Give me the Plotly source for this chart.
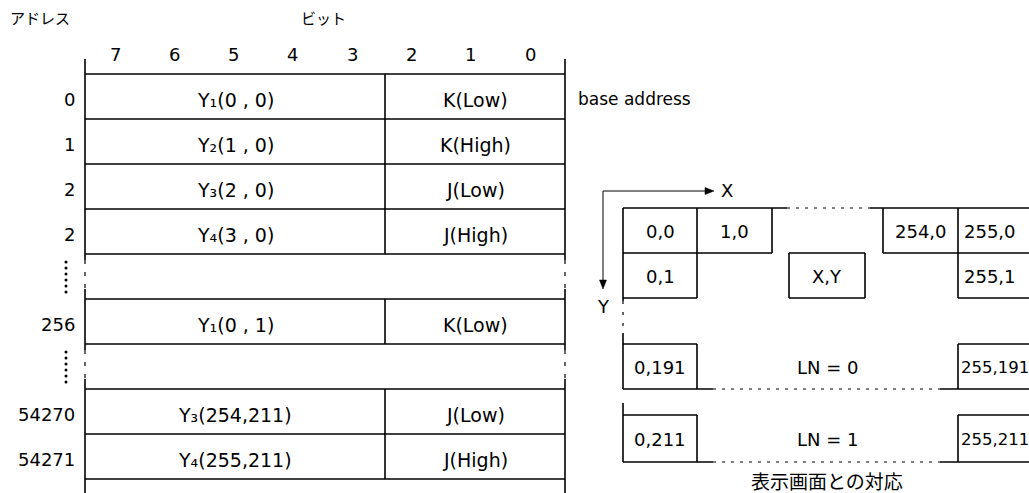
import plotly.graph_objects as go

W, H = 1029, 493

# ---------------- data ----------------
bit_labels = ["7", "6", "5", "4", "3", "2", "1", "0"]
addresses = ["0", "1", "2", "2", None, "256", None, "54270", "54271"]
pixel_fields = ["Y₁(0 , 0)", "Y₂(1 , 0)", "Y₃(2 , 0)", "Y₄(3 , 0)", None,
                "Y₁(0 , 1)", None, "Y₃(254,211)", "Y₄(255,211)"]
color_fields = ["K(Low)", "K(High)", "J(Low)", "J(High)", None, "K(Low)", None,
                "J(Low)", "J(High)"]
title_address = "アドレス"
title_bit = "ビット"
base_label = "base address"
caption = "表示画面との対応"
screen_row0 = ["0,0", "1,0", "254,0", "255,0"]
screen_row1 = ["0,1", "X,Y", "255,1"]
screen_lines = [("0,191", "LN = 0", "255,191"), ("0,211", "LN = 1", "255,211")]

# ---------------- layout constants ----------------
LAT = "DejaVu Sans"
JP = "Noto Sans CJK JP"
FS = 18
FS_CELL = 19
LW = 1.6
TX0, TXM, TX1 = 85, 385, 565
TY0, ROWH = 74, 45
BIT_X0, BIT_STEP = 115, 59.3

shapes = []
annotations = []


def line(x0, y0, x1, y1, dash=None, width=LW):
    ln = dict(color="black", width=width)
    if dash:
        ln["dash"] = dash
    shapes.append(dict(type="line", xref="x", yref="y", x0=x0, y0=y0, x1=x1, y1=y1,
                       line=ln, layer="above"))


def arrow_head(path):
    shapes.append(dict(type="path", xref="x", yref="y", path=path,
                       fillcolor="black", line=dict(color="black", width=0.5),
                       layer="above"))


def text(x, y, s, size=FS, font=LAT, xanchor="center"):
    annotations.append(dict(x=x, y=y, xref="x", yref="y", text=s, showarrow=False,
                            xanchor=xanchor, yanchor="middle",
                            font=dict(family=font, size=size, color="black")))


# ---------------- left: memory table ----------------
text(8, 17, title_address, size=15, font=JP, xanchor="left")
text(323, 17, title_bit, size=15, font=JP)

for k, b in enumerate(bit_labels):
    text(BIT_X0 + BIT_STEP * k, 54, b)

n = len(addresses)
for k in range(n + 1):
    y = TY0 + ROWH * k
    line(TX0, y, TX1, y)

dot_x, dot_y = [], []
for i in range(n):
    ytop = TY0 + ROWH * i
    ybot = ytop + ROWH
    yc = ytop + ROWH / 2 + 3
    if addresses[i] is None:
        for xb in (TX0, TX1):
            line(xb, ytop, xb, ytop + 6)
            line(xb, ytop + 6, xb, ybot - 10, dash="4px,8px", width=1.2)
            line(xb, ybot - 10, xb, ybot)
        for d in range(6):
            dot_x.append(66)
            dot_y.append(ytop + 8 + 6 * d)
        continue
    for xb in (TX0, TX1):
        line(xb, ytop, xb, ybot)
    line(TXM, ytop, TXM, ybot)
    text(77, yc, addresses[i], xanchor="right")
    text((TX0 + TXM) / 2, yc, pixel_fields[i], size=FS_CELL)
    text((TXM + TX1) / 2, yc, color_fields[i], size=FS_CELL)

for xb in (TX0, TX1):
    line(xb, 59, xb, TY0)
    line(xb, TY0 + ROWH * n, xb, H)

text(576, TY0 + ROWH / 2 + 2, base_label, size=17, xanchor="left")

# ---------------- right: screen correspondence ----------------
C0, C1, C2 = 623, 697, 772
XY0, XY1 = 789, 865
C254, C255 = 883, 958
R0, R1, R2 = 208, 253, 298
AX, AY = 603, 191

line(AX, AY, 706, AY, width=1)
arrow_head(f"M 714 {AY} L 705 {AY - 3.5} L 705 {AY + 3.5} Z")
line(AX, AY, AX, 281, width=1)
arrow_head(f"M {AX} 289 L {AX - 3.5} 280 L {AX + 3.5} 280 Z")
text(727, 190, "X")
text(603, 306, "Y")

line(C0, R0, 787, R0)
line(787, R0, 870, R0, dash="3px,6px", width=1)
line(870, R0, W + 5, R0)
line(C0, R1, C2, R1)
line(C254, R1, W + 5, R1)
line(C1, R0, C1, R2)
line(C2, R0, C2, R1)
line(C254, R0, C254, R1)
line(C255, R0, C255, R2)
line(C0, R2, C1, R2)
line(C255, R2, W + 5, R2)
line(XY0, R1, XY1, R1)
line(XY0, R2, XY1, R2)
line(XY0, R1, XY0, R2)
line(XY1, R1, XY1, R2)
line(C0, R0, C0, R2 + 3)
line(C0, R2 + 3, C0, 333, dash="3px,8px", width=1.2)

cx = [(C0 + C1) / 2, (C1 + C2) / 2, (C254 + C255) / 2]
for s, x in zip(screen_row0[:3], cx):
    text(x, (R0 + R1) / 2 + 1, s)
text(C255 + 4, (R0 + R1) / 2 + 1, screen_row0[3], xanchor="left")
text(cx[0], (R1 + R2) / 2 + 1, screen_row1[0])
text((XY0 + XY1) / 2, (R1 + R2) / 2 + 1, screen_row1[1])
text(C255 + 4, (R1 + R2) / 2 + 1, screen_row1[2], xanchor="left")

groups = [(344, 389, 333), (415, 462, 403)]
for (gt, gb, gs), (lab_l, lab_c, lab_r) in zip(groups, screen_lines):
    line(C0, gs, C0, gb)
    line(C0, gt, C1, gt)
    line(C1, gt, C1, gb)
    line(C0, gb, 713, gb)
    line(713, gb, 940, gb, dash="3px,6px", width=1)
    line(940, gb, W + 5, gb)
    line(C255, gt, C255, gb)
    line(C255, gt, W + 5, gt)
    yc = (gt + gb) / 2 + 1
    text(cx[0], yc, lab_l)
    text(827, yc, lab_c)
    text(C255 + 1, yc, lab_r, size=16.5, xanchor="left")

text(827, 480, caption, size=19, font=JP)

fig = go.Figure()
fig.add_trace(go.Scatter(x=dot_x, y=dot_y, mode="markers",
                         marker=dict(color="black", size=3), hoverinfo="skip",
                         showlegend=False))
fig.update_layout(
    width=W, height=H,
    margin=dict(l=0, r=0, t=0, b=0),
    paper_bgcolor="white", plot_bgcolor="white",
    xaxis=dict(range=[0, W], visible=False, fixedrange=True),
    yaxis=dict(range=[H, 0], visible=False, fixedrange=True),
    shapes=shapes, annotations=annotations, showlegend=False,
)
fig.write_html("out.html", config={"displayModeBar": False},
               post_script="document.body.style.margin='0';document.body.style.overflow='hidden';")
